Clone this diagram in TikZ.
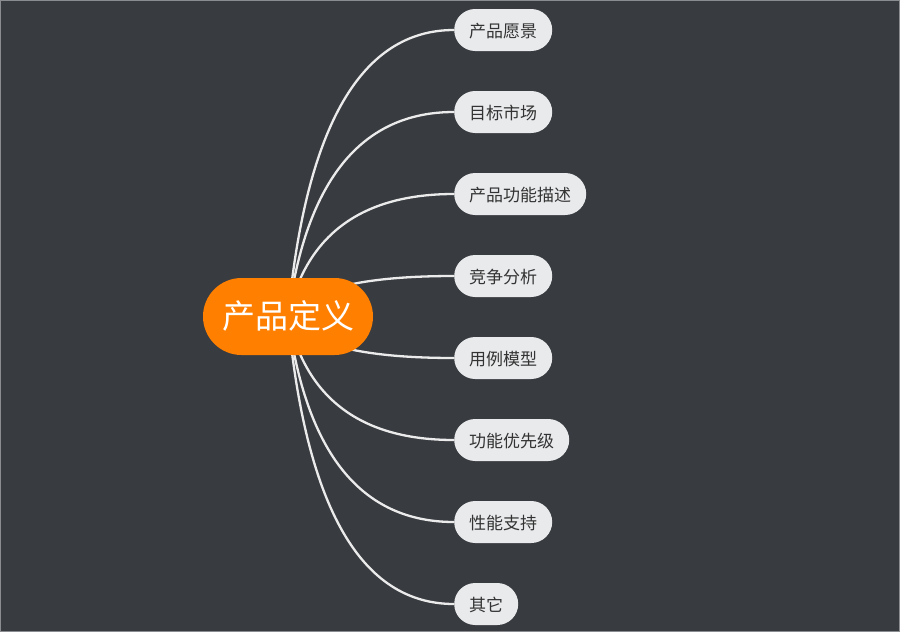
\documentclass[tikz,border=0pt]{standalone}
\usepackage{fontspec}
\usetikzlibrary{calc}
\newfontfamily\cjk{Noto Sans CJK SC}
\definecolor{bgc}{HTML}{383B40}
\definecolor{framec}{HTML}{8A8C8F}
\definecolor{rootc}{HTML}{FF8000}
\definecolor{childc}{HTML}{E9EAEC}
\definecolor{childtext}{HTML}{333333}
\definecolor{linkc}{HTML}{EBEBEB}
\pgfdeclarelayer{bglayer}
\pgfdeclarelayer{linelayer}
\pgfsetlayers{bglayer,linelayer,main}
\tikzset{
  rootnode/.style={fill=rootc, text=white, font=\cjk\fontsize{33}{36}\selectfont,
    minimum width=170pt, minimum height=77pt, rounded corners=38.5pt,
    inner xsep=0pt, inner ysep=0pt, text height=29pt, text depth=5pt},
  childnode/.style={fill=childc, text=childtext, font=\cjk\fontsize{17}{19}\selectfont,
    minimum height=42pt, rounded corners=21pt, inner xsep=15pt, inner ysep=0pt,
    text height=16pt, text depth=2pt, anchor=west},
  linkline/.style={draw=linkc, line width=2.3pt},
  framebox/.style={draw=framec, line width=1pt}
}
\begin{document}
\begin{tikzpicture}[x=1pt,y=-1pt]
\begin{pgfonlayer}{bglayer}
\fill[bgc] (0,0) rectangle (900,632);
\draw[framebox] (0.5,0.5) rectangle (899.5,631.5);
\end{pgfonlayer}
\useasboundingbox (0,0) rectangle (900,632);
\node[rootnode] (root) at (288,316.5) {产品定义};
\coordinate (k) at (315,316.5);
\node[childnode] (c1) at (454,30) {产品愿景};
\node[childnode] (c2) at (454,112) {目标市场};
\node[childnode] (c3) at (454,194) {产品功能描述};
\node[childnode] (c4) at (454,276) {竞争分析};
\node[childnode] (c5) at (454,358) {用例模型};
\node[childnode] (c6) at (454,440) {功能优先级};
\node[childnode] (c7) at (454,522) {性能支持};
\node[childnode] (c8) at (454,604) {其它};
\begin{pgfonlayer}{linelayer}
\foreach \c in {c1,c2,c3,c4,c5,c6,c7,c8}{
  \coordinate (q\c) at (k |- \c.west);
  \draw[linkline] (root.center) .. controls ($(root.center)!2/3!(q\c)$) and ($(\c.west)!2/3!(q\c)$) .. (\c.west);
}
\end{pgfonlayer}
\end{tikzpicture}
\end{document}
